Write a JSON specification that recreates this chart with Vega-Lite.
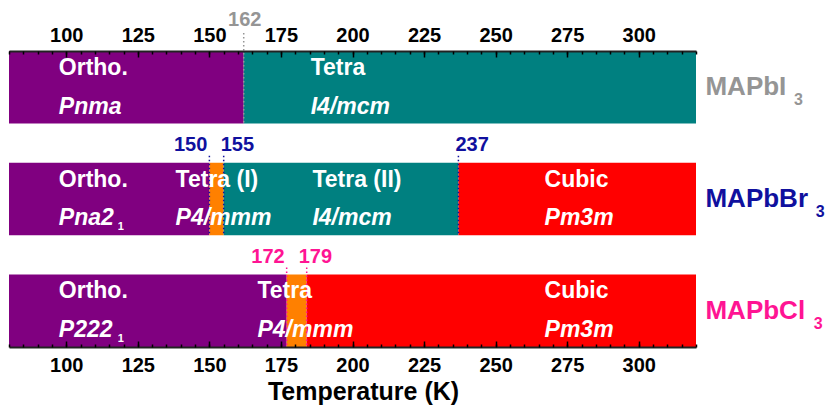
{
  "$schema": "https://vega.github.io/schema/vega-lite/v6.json",
  "width": 687,
  "height": 296,
  "autosize": "none",
  "padding": {"left": 9, "top": 51, "right": 129, "bottom": 64},
  "background": "white",
  "config": {"view": {"stroke": null}, "font": "Liberation Sans"},
  "datasets": {
    "phases": [
      {"compound": "MAPbI3", "sg": "Pnma", "start": 80, "end": 162},
      {"compound": "MAPbI3", "sg": "I4/mcm", "start": 162, "end": 320},
      {"compound": "MAPbBr3", "sg": "Pna21", "start": 80, "end": 150},
      {"compound": "MAPbBr3", "sg": "P4/mmm", "start": 150, "end": 155},
      {"compound": "MAPbBr3", "sg": "I4/mcm", "start": 155, "end": 237},
      {"compound": "MAPbBr3", "sg": "Pm3m", "start": 237, "end": 320},
      {"compound": "MAPbCl3", "sg": "P2221", "start": 80, "end": 177},
      {"compound": "MAPbCl3", "sg": "P4/mmm", "start": 177, "end": 184},
      {"compound": "MAPbCl3", "sg": "Pm3m", "start": 184, "end": 320}
    ],
    "labels": [
      {"compound": "MAPbI3", "at": 97.4, "phase": "Ortho.", "group": "Pnma"},
      {"compound": "MAPbI3", "at": 185.4, "phase": "Tetra", "group": "I4/mcm"},
      {"compound": "MAPbBr3", "at": 97.4, "phase": "Ortho.", "group": "Pna2"},
      {"compound": "MAPbBr3", "at": 138.2, "phase": "Tetra (I)", "group": "P4/mmm"},
      {"compound": "MAPbBr3", "at": 186, "phase": "Tetra (II)", "group": "I4/mcm"},
      {"compound": "MAPbBr3", "at": 267.1, "phase": "Cubic", "group": "Pm3m"},
      {"compound": "MAPbCl3", "at": 97.4, "phase": "Ortho.", "group": "P222"},
      {"compound": "MAPbCl3", "at": 166.8, "phase": "Tetra", "group": "P4/mmm"},
      {"compound": "MAPbCl3", "at": 267.1, "phase": "Cubic", "group": "Pm3m"}
    ],
    "groupSubs": [
      {"compound": "MAPbBr3", "at": 118.0, "sub": "1"},
      {"compound": "MAPbCl3", "at": 118.0, "sub": "1"}
    ],
    "names": [
      {"compound": "MAPbI3", "at": 323.3, "name": "MAPbI"},
      {"compound": "MAPbBr3", "at": 323.3, "name": "MAPbBr"},
      {"compound": "MAPbCl3", "at": 323.3, "name": "MAPbCl"}
    ],
    "nameSubs": [
      {"compound": "MAPbI3", "at": 354.2, "sub": "3"},
      {"compound": "MAPbBr3", "at": 361.8, "sub": "3"},
      {"compound": "MAPbCl3", "at": 361.1, "sub": "3"}
    ],
    "transitions": [
      {"compound": "MAPbI3", "T": 162, "label": "162"},
      {"compound": "MAPbBr3", "T": 150, "label": "150"},
      {"compound": "MAPbBr3", "T": 155, "label": "155"},
      {"compound": "MAPbBr3", "T": 237, "label": "237"},
      {"compound": "MAPbCl3", "T": 177, "label": "172"},
      {"compound": "MAPbCl3", "T": 184, "label": "179"}
    ]
  },
  "layer": [
    {
      "data": {"name": "phases"},
      "mark": {"type": "bar"},
      "encoding": {
        "x": {"field": "start", "type": "quantitative", "scale": {"domain": [80, 320], "nice": false, "zero": false},
          "axis": {"orient": "top", "values": [100, 125, 150, 175, 200, 225, 250, 275, 300], "tickSize": -6, "tickWidth": 1.5, "tickColor": "#000", "domain": true, "domainWidth": 2, "domainColor": "#222", "labelFont": "Liberation Sans", "labelFontWeight": "bold", "labelFontSize": 20, "labelColor": "#000", "labelPadding": 12, "labelFlush": false, "labelOverlap": false, "grid": false, "title": null, "zindex": 1}},
        "x2": {"field": "end"},
        "y": {"field": "compound", "type": "nominal", "scale": {"type": "band", "domain": ["MAPbI3", "MAPbBr3", "MAPbCl3"], "paddingInner": 0.351, "paddingOuter": 0}, "axis": null},
        "color": {"field": "sg", "type": "nominal", "scale": {"domain": ["Pnma", "Pna21", "P2221", "I4/mcm", "P4/mmm", "Pm3m"], "range": ["#800080", "#800080", "#800080", "#008080", "#FF8000", "#FF0000"]}, "legend": null}
      }
    },
    {
      "data": {"name": "transitions"},
      "transform": [{"filter": "datum.compound === 'MAPbI3'"}],
      "mark": {"type": "rule", "strokeDash": [1.5, 2.5], "strokeWidth": 1.5, "yOffset": -18},
      "encoding": {
        "x": {"field": "T", "type": "quantitative", "axis": null},
        "y": {"field": "compound", "type": "nominal", "bandPosition": 0, "scale": {"type": "band"}, "axis": null},
        "y2": {"field": "compound", "bandPosition": 1},
        "color": {"field": "compound", "type": "nominal", "scale": {"domain": ["MAPbI3", "MAPbBr3", "MAPbCl3"], "range": ["#959595", "#10109E", "#FF1493"]}, "legend": null}
      }
    },
    {
      "data": {"name": "transitions"},
      "transform": [{"filter": "datum.compound !== 'MAPbI3'"}],
      "mark": {"type": "rule", "strokeDash": [1.5, 2.5], "strokeWidth": 1.5, "yOffset": -7},
      "encoding": {
        "x": {"field": "T", "type": "quantitative", "axis": null},
        "y": {"field": "compound", "type": "nominal", "bandPosition": 0, "scale": {"type": "band"}, "axis": null},
        "y2": {"field": "compound", "bandPosition": 1},
        "color": {"field": "compound", "type": "nominal", "scale": {"domain": ["MAPbI3", "MAPbBr3", "MAPbCl3"], "range": ["#959595", "#10109E", "#FF1493"]}, "legend": null}
      }
    },
    {
      "data": {"name": "labels"},
      "mark": {"type": "text", "align": "left", "baseline": "middle", "font": "Liberation Sans", "fontSize": 23, "fontWeight": "bold", "color": "#FFFFFF"},
      "encoding": {
        "x": {"field": "at", "type": "quantitative",
          "axis": {"orient": "top", "values": [80, 85, 90, 95, 100, 105, 110, 115, 120, 125, 130, 135, 140, 145, 150, 155, 160, 165, 170, 175, 180, 185, 190, 195, 200, 205, 210, 215, 220, 225, 230, 235, 240, 245, 250, 255, 260, 265, 270, 275, 280, 285, 290, 295, 300, 305, 310, 315, 320], "tickSize": -3, "tickWidth": 1.5, "tickColor": "#000", "domain": false, "labels": false, "grid": false, "title": null, "zindex": 1}},
        "y": {"field": "compound", "type": "nominal", "bandPosition": 0.233, "scale": {"type": "band"}, "axis": null},
        "text": {"field": "phase"}
      }
    },
    {
      "data": {"name": "labels"},
      "mark": {"type": "text", "align": "left", "baseline": "middle", "font": "Liberation Sans", "fontSize": 23, "fontWeight": "bold", "fontStyle": "italic", "color": "#FFFFFF"},
      "encoding": {
        "x": {"field": "at", "type": "quantitative",
          "axis": {"orient": "bottom", "values": [100, 125, 150, 175, 200, 225, 250, 275, 300], "tickSize": -6, "tickWidth": 1.5, "tickColor": "#000", "domain": true, "domainWidth": 2, "domainColor": "#222", "labelFont": "Liberation Sans", "labelFontWeight": "bold", "labelFontSize": 20, "labelColor": "#000", "labelPadding": 14, "labelFlush": false, "labelOverlap": false, "grid": false, "title": "Temperature (K)", "titleFont": "Liberation Sans", "titleFontSize": 25, "titleFontWeight": "bold", "titleColor": "#000", "titlePadding": 4, "titleX": 354, "zindex": 1}},
        "y": {"field": "compound", "type": "nominal", "bandPosition": 0.768, "scale": {"type": "band"}, "axis": null},
        "text": {"field": "group"}
      }
    },
    {
      "data": {"name": "groupSubs"},
      "mark": {"type": "text", "align": "left", "baseline": "middle", "font": "Liberation Sans", "fontSize": 11, "fontWeight": "bold", "color": "#FFFFFF"},
      "encoding": {
        "x": {"field": "at", "type": "quantitative",
          "axis": {"orient": "bottom", "values": [80, 85, 90, 95, 100, 105, 110, 115, 120, 125, 130, 135, 140, 145, 150, 155, 160, 165, 170, 175, 180, 185, 190, 195, 200, 205, 210, 215, 220, 225, 230, 235, 240, 245, 250, 255, 260, 265, 270, 275, 280, 285, 290, 295, 300, 305, 310, 315, 320], "tickSize": -3, "tickWidth": 1.5, "tickColor": "#000", "domain": false, "labels": false, "grid": false, "title": null, "zindex": 1}},
        "y": {"field": "compound", "type": "nominal", "bandPosition": 0.89, "scale": {"type": "band"}, "axis": null},
        "text": {"field": "sub"}
      }
    },
    {
      "data": {"name": "names"},
      "mark": {"type": "text", "align": "left", "baseline": "middle", "font": "Liberation Sans", "fontSize": 26, "fontWeight": "bold"},
      "encoding": {
        "x": {"field": "at", "type": "quantitative", "axis": null},
        "y": {"field": "compound", "type": "nominal", "bandPosition": 0.5, "scale": {"type": "band"}, "axis": null},
        "text": {"field": "name"},
        "color": {"field": "compound", "type": "nominal", "scale": {"domain": ["MAPbI3", "MAPbBr3", "MAPbCl3"], "range": ["#959595", "#10109E", "#FF1493"]}, "legend": null}
      }
    },
    {
      "data": {"name": "nameSubs"},
      "mark": {"type": "text", "align": "left", "baseline": "middle", "font": "Liberation Sans", "fontSize": 16, "fontWeight": "bold"},
      "encoding": {
        "x": {"field": "at", "type": "quantitative", "axis": null},
        "y": {"field": "compound", "type": "nominal", "bandPosition": 0.68, "scale": {"type": "band"}, "axis": null},
        "text": {"field": "sub"},
        "color": {"field": "compound", "type": "nominal", "scale": {"domain": ["MAPbI3", "MAPbBr3", "MAPbCl3"], "range": ["#959595", "#10109E", "#FF1493"]}, "legend": null}
      }
    },
    {
      "data": {"name": "transitions"},
      "transform": [{"filter": "datum.label === '162'"}],
      "mark": {"type": "text", "align": "center", "baseline": "middle", "font": "Liberation Sans", "fontSize": 20, "fontWeight": "bold", "dx": 1, "dy": -31},
      "encoding": {
        "x": {"field": "T", "type": "quantitative", "axis": null},
        "y": {"field": "compound", "type": "nominal", "bandPosition": 0, "scale": {"type": "band"}, "axis": null},
        "text": {"field": "label"},
        "color": {"field": "compound", "type": "nominal", "scale": {"domain": ["MAPbI3", "MAPbBr3", "MAPbCl3"], "range": ["#959595", "#10109E", "#FF1493"]}, "legend": null}
      }
    },
    {
      "data": {"name": "transitions"},
      "transform": [{"filter": "datum.label === '150' || datum.label === '172'"}],
      "mark": {"type": "text", "align": "right", "baseline": "middle", "font": "Liberation Sans", "fontSize": 20, "fontWeight": "bold", "dx": -2, "dy": -17.3},
      "encoding": {
        "x": {"field": "T", "type": "quantitative", "axis": null},
        "y": {"field": "compound", "type": "nominal", "bandPosition": 0, "scale": {"type": "band"}, "axis": null},
        "text": {"field": "label"},
        "color": {"field": "compound", "type": "nominal", "scale": {"domain": ["MAPbI3", "MAPbBr3", "MAPbCl3"], "range": ["#959595", "#10109E", "#FF1493"]}, "legend": null}
      }
    },
    {
      "data": {"name": "transitions"},
      "transform": [{"filter": "datum.label === '155' || datum.label === '237'"}],
      "mark": {"type": "text", "align": "left", "baseline": "middle", "font": "Liberation Sans", "fontSize": 20, "fontWeight": "bold", "dx": -3, "dy": -17.3},
      "encoding": {
        "x": {"field": "T", "type": "quantitative", "axis": null},
        "y": {"field": "compound", "type": "nominal", "bandPosition": 0, "scale": {"type": "band"}, "axis": null},
        "text": {"field": "label"},
        "color": {"field": "compound", "type": "nominal", "scale": {"domain": ["MAPbI3", "MAPbBr3", "MAPbCl3"], "range": ["#959595", "#10109E", "#FF1493"]}, "legend": null}
      }
    },
    {
      "data": {"name": "transitions"},
      "transform": [{"filter": "datum.label === '179'"}],
      "mark": {"type": "text", "align": "left", "baseline": "middle", "font": "Liberation Sans", "fontSize": 20, "fontWeight": "bold", "dx": -8, "dy": -17.3},
      "encoding": {
        "x": {"field": "T", "type": "quantitative", "axis": null},
        "y": {"field": "compound", "type": "nominal", "bandPosition": 0, "scale": {"type": "band"}, "axis": null},
        "text": {"field": "label"},
        "color": {"field": "compound", "type": "nominal", "scale": {"domain": ["MAPbI3", "MAPbBr3", "MAPbCl3"], "range": ["#959595", "#10109E", "#FF1493"]}, "legend": null}
      }
    }
  ],
  "resolve": {"scale": {"color": "independent"}, "axis": {"x": "independent"}}
}
